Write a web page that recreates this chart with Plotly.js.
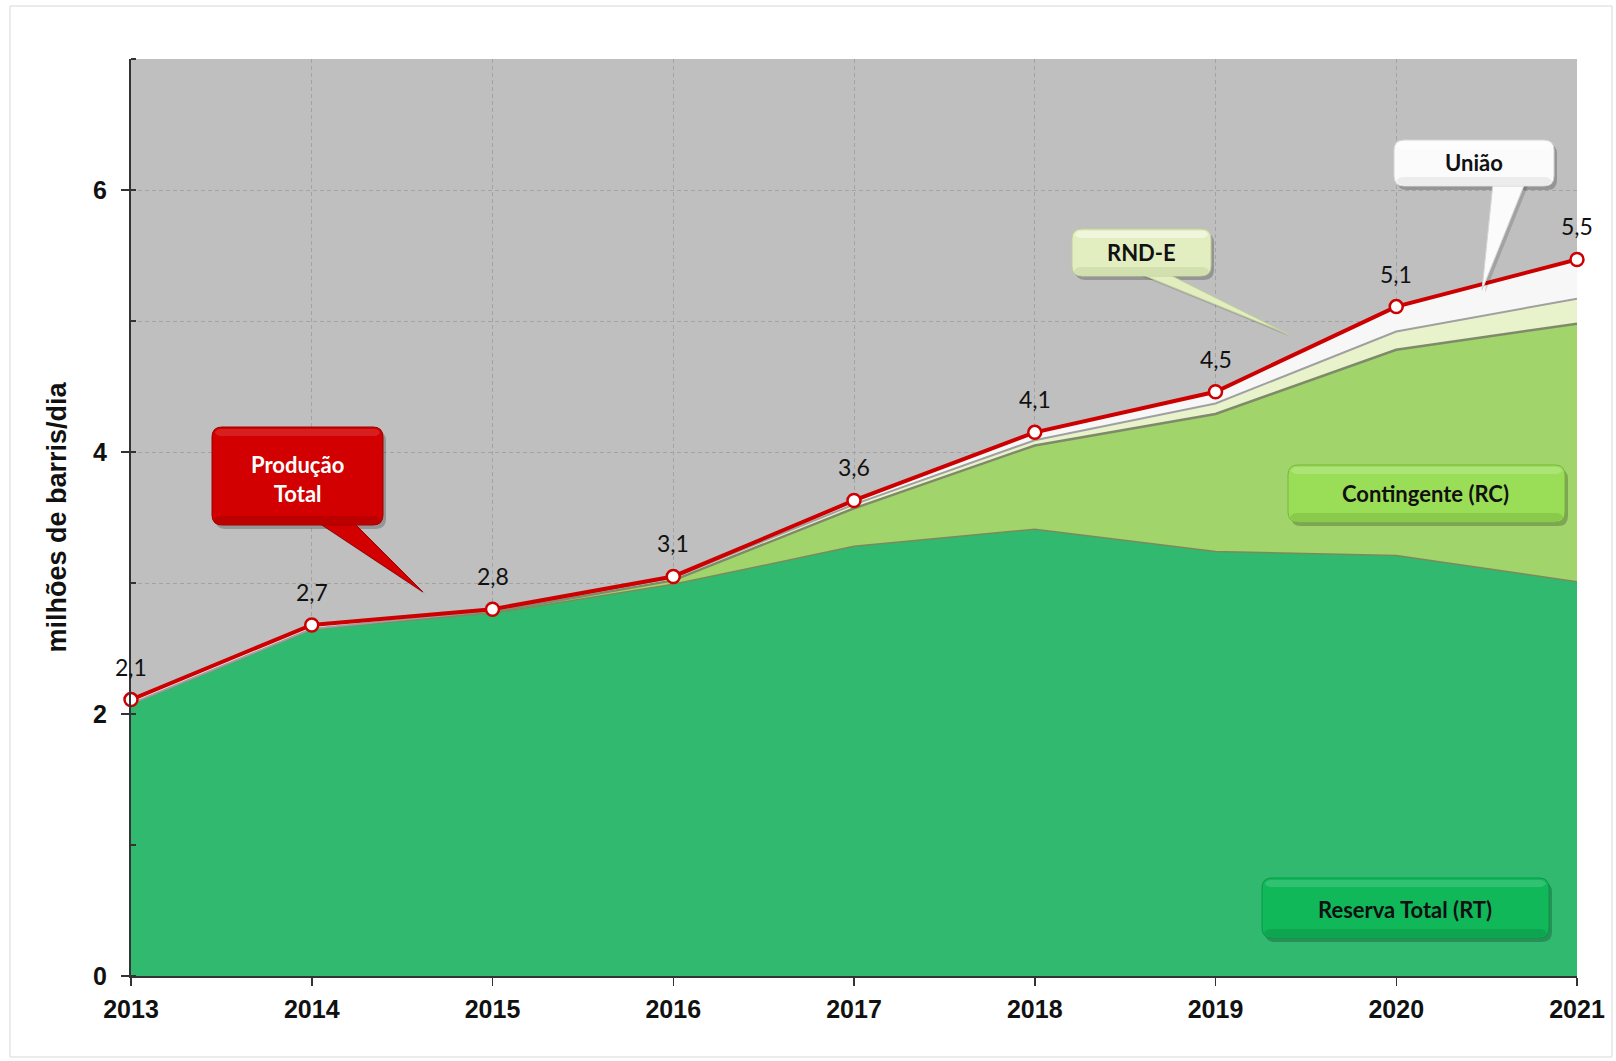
<!DOCTYPE html>
<html><head><meta charset="utf-8">
<script src="https://cdn.plot.ly/plotly-3.0.1.min.js"></script>
<style>html,body{margin:0;padding:0;background:#fff}#chart{width:1616px;height:1061px}</style>
</head><body><div id="chart"></div>
<script>
// ---- data ----
const years = [2013, 2014, 2015, 2016, 2017, 2018, 2019, 2020, 2021];
const reservaTotal = [2.08, 2.65, 2.77, 2.99, 3.28, 3.41, 3.24, 3.21, 3.01];
const contingente  = [0.00, 0.00, 0.01, 0.03, 0.29, 0.64, 1.05, 1.57, 1.97];
const rndE         = [0.00, 0.00, 0.01, 0.02, 0.03, 0.04, 0.08, 0.14, 0.19];
const uniao        = [0.03, 0.03, 0.01, 0.01, 0.03, 0.06, 0.09, 0.19, 0.30];
const producaoTotal = [2.11, 2.68, 2.80, 3.05, 3.63, 4.15, 4.46, 5.11, 5.47];
const totalLabels = ['2,1', '2,7', '2,8', '3,1', '3,6', '4,1', '4,5', '5,1', '5,5'];
const yTickVals = [0, 2, 4, 6];
const yTickText = ['0', '2', '4', '6'];

// ---- geometry helpers (pixel -> paper) ----
const L = 131, T = 59, W = 1446, H = 917;
const px = x => +((x - L) / W).toFixed(5);
const py = y => +((T + H - y) / H).toFixed(5);
function roundRect(x0, y0, x1, y1, r) {
  return `M${px(x0 + r)},${py(y0)} L${px(x1 - r)},${py(y0)} Q${px(x1)},${py(y0)} ${px(x1)},${py(y0 + r)} ` +
         `L${px(x1)},${py(y1 - r)} Q${px(x1)},${py(y1)} ${px(x1 - r)},${py(y1)} L${px(x0 + r)},${py(y1)} ` +
         `Q${px(x0)},${py(y1)} ${px(x0)},${py(y1 - r)} L${px(x0)},${py(y0 + r)} Q${px(x0)},${py(y0)} ${px(x0 + r)},${py(y0)} Z`;
}
function tri(ax, ay, bx, by, cx, cy) {
  return `M${px(ax)},${py(ay)} L${px(bx)},${py(by)} L${px(cx)},${py(cy)} Z`;
}
function callout(box, tail, fill, border, light, dark) {
  const out = [];
  const [x0, y0, x1, y1] = box;
  out.push({type: 'path', xref: 'paper', yref: 'paper', layer: 'above',
    path: roundRect(x0 + 3, y0 + 4, x1 + 3, y1 + 4, 10), fillcolor: 'rgba(0,0,0,0.22)', line: {width: 0}});
  if (tail) {
    out.push({type: 'path', xref: 'paper', yref: 'paper', layer: 'above',
      path: tri(tail[0] + 3, tail[1], tail[2] + 3, tail[3], tail[4] + 3, tail[5] + 3), fillcolor: 'rgba(0,0,0,0.15)', line: {width: 0}});
    out.push({type: 'path', xref: 'paper', yref: 'paper', layer: 'above',
      path: tri(tail[0], tail[1] - 3, tail[2], tail[3] - 3, tail[4], tail[5]), fillcolor: fill, line: {color: border, width: 1}});
  }
  out.push({type: 'path', xref: 'paper', yref: 'paper', layer: 'above',
    path: roundRect(x0, y0, x1, y1, 10), fillcolor: fill, line: {color: border, width: 1}});
  out.push({type: 'path', xref: 'paper', yref: 'paper', layer: 'above',
    path: roundRect(x0 + 2, y1 - 9, x1 - 2, y1 - 1, 7), fillcolor: dark, line: {width: 0}});
  out.push({type: 'path', xref: 'paper', yref: 'paper', layer: 'above',
    path: roundRect(x0 + 3, y0 + 2, x1 - 3, y0 + 9, 6), fillcolor: light, line: {width: 0}});
  return out;
}

const traces = [
  {x: years, y: reservaTotal, name: 'Reserva Total (RT)', stackgroup: 'a', mode: 'lines',
   line: {color: '#7c8a5a', width: 1.5}, fillcolor: '#31b96f', hoverinfo: 'x+y'},
  {x: years, y: contingente, name: 'Contingente (RC)', stackgroup: 'a', mode: 'lines',
   line: {color: '#7f8a6a', width: 2.5}, fillcolor: '#a2d46c', hoverinfo: 'x+y'},
  {x: years, y: rndE, name: 'RND-E', stackgroup: 'a', mode: 'lines',
   line: {color: '#a0a0a0', width: 2}, fillcolor: '#e8f3cc', hoverinfo: 'x+y'},
  {x: years, y: uniao, name: 'União', stackgroup: 'a', mode: 'lines',
   line: {color: '#ffffff', width: 1}, fillcolor: '#f7f7f7', hoverinfo: 'x+y'},
  {x: years, y: producaoTotal, name: 'Produção Total', mode: 'lines+markers',
   line: {color: '#cc0000', width: 4},
   marker: {size: 13, color: '#ffffff', line: {color: '#cc0000', width: 2.5}},
   cliponaxis: false}
];

let shapes = [
  {type: 'rect', xref: 'paper', yref: 'paper', x0: px(10), x1: px(1612), y0: py(6), y1: py(1057),
   line: {color: '#d9d9d9', width: 1}, fillcolor: 'rgba(0,0,0,0)', layer: 'below'}
];
shapes = shapes.concat(
  callout([212, 427, 383, 525], [313, 522, 350, 522, 423, 592], '#d20000', '#9c0000', 'rgba(255,255,255,0.12)', 'rgba(90,0,0,0.18)'),
  callout([1072, 229, 1211, 276], [1138, 276, 1166, 276, 1288, 334], '#e2eec0', '#c0d098', 'rgba(255,255,255,0.45)', 'rgba(120,140,80,0.15)'),
  callout([1394, 140, 1554, 186], [1493, 186, 1525, 186, 1482, 290], '#fbfbfb', '#d4d4d4', 'rgba(255,255,255,0.6)', 'rgba(0,0,0,0.06)'),
  callout([1288, 465, 1565, 522], null, '#9ade57', '#78b540', 'rgba(255,255,255,0.18)', 'rgba(40,90,0,0.15)'),
  callout([1262, 878, 1549, 938], null, '#10b85a', '#0a9648', 'rgba(255,255,255,0.14)', 'rgba(0,60,20,0.15)')
);

const labelFont = {family: 'Lato, Carlito, sans-serif', size: 22, color: '#111111', weight: 'bold'};
const annotations = [
  {xref: 'paper', yref: 'paper', x: px(298), y: py(479), xanchor: 'center', yanchor: 'middle',
   text: 'Produção<br>Total', showarrow: false, align: 'center',
   font: {family: 'Lato, Carlito, sans-serif', size: 22, color: '#ffffff', weight: 'bold'}},
  {xref: 'paper', yref: 'paper', x: px(1141), y: py(252), xanchor: 'center', yanchor: 'middle', text: 'RND-E', showarrow: false, font: labelFont},
  {xref: 'paper', yref: 'paper', x: px(1474), y: py(163), xanchor: 'center', yanchor: 'middle', text: 'União', showarrow: false, font: labelFont},
  {xref: 'paper', yref: 'paper', x: px(1426), y: py(494), xanchor: 'center', yanchor: 'middle', text: 'Contingente (RC)', showarrow: false, font: labelFont},
  {xref: 'paper', yref: 'paper', x: px(1405), y: py(909), xanchor: 'center', yanchor: 'middle', text: 'Reserva Total (RT)', showarrow: false, font: labelFont}
];
years.forEach((yr, i) => {
  annotations.push({x: yr, y: producaoTotal[i], xref: 'x', yref: 'y', text: totalLabels[i],
    showarrow: false, yanchor: 'bottom', xanchor: 'center', yshift: 17,
    font: {family: 'Lato, Carlito, sans-serif', size: 23, color: '#111111'}});
});

const gridStyle = {showgrid: true, gridcolor: '#a3a3a3', griddash: '4px,3px', gridwidth: 1};
const layout = {
  width: 1616, height: 1061,
  margin: {l: 131, r: 39, t: 59, b: 85},
  paper_bgcolor: '#ffffff', plot_bgcolor: '#bfbfbf',
  showlegend: false,
  font: {family: 'Liberation Sans, Arial, sans-serif', color: '#111111'},
  xaxis: Object.assign({
    range: [2013, 2021], tickvals: years, ticktext: years.map(String),
    tickfont: {family: 'Liberation Sans, Arial, sans-serif', size: 25, color: '#111111', weight: 'bold'},
    showline: true, linecolor: '#333333', linewidth: 2,
    ticks: 'outside', ticklen: 8, tickcolor: '#333333', tickwidth: 1.5, ticklabelstandoff: 2,
    zeroline: false
  }, gridStyle),
  yaxis: Object.assign({
    range: [0, 7], tickvals: yTickVals, ticktext: yTickText,
    tickfont: {family: 'Liberation Sans, Arial, sans-serif', size: 25, color: '#111111', weight: 'bold'},
    showline: true, linecolor: '#333333', linewidth: 2,
    ticks: 'outside', ticklen: 8, tickcolor: '#333333', tickwidth: 1.5, ticklabelstandoff: 9,
    minor: {dtick: 1, tick0: 0, showgrid: true, gridcolor: '#a3a3a3', griddash: '4px,3px', ticks: 'inside', ticklen: 5, tickcolor: '#333333'},
    zeroline: false,
    title: {text: 'milhões de barris/dia', standoff: 19,
      font: {family: 'Liberation Sans, Arial, sans-serif', size: 27, color: '#111111', weight: 'bold'}}
  }, gridStyle),
  shapes: shapes,
  annotations: annotations
};

Plotly.newPlot('chart', traces, layout, {displayModeBar: false, staticPlot: true});
</script>
</body></html>
